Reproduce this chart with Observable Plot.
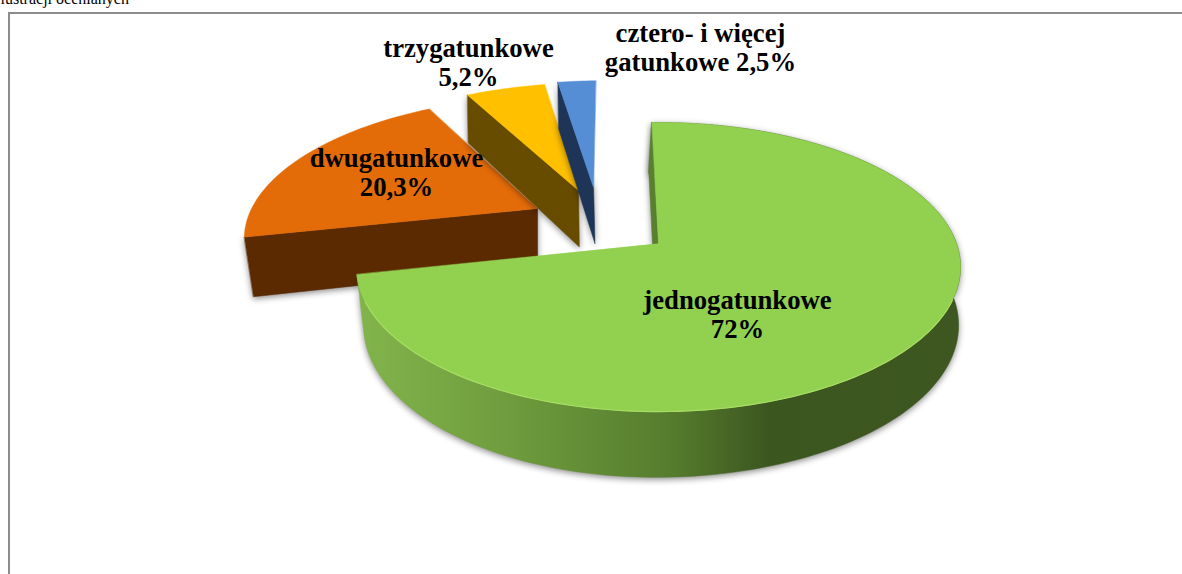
<!DOCTYPE html>
<html><head><meta charset="utf-8">
<script src="https://cdn.jsdelivr.net/npm/d3@7"></script>
<script src="https://cdn.jsdelivr.net/npm/@observablehq/plot@0.6"></script>
<style>html,body{margin:0;padding:0;background:#fff;overflow:hidden}svg{display:block}</style>
</head><body><div id="chart"></div>
<script>
// Data
const names = ["jednogatunkowe","dwugatunkowe","trzygatunkowe","cztero- i więcej gatunkowe"];
const shares = [72,20.3,5.2,2.5];
const labels = ["jednogatunkowe\n72%","dwugatunkowe\n20,3%","trzygatunkowe\n5,2%","cztero- i więcej\ngatunkowe 2,5%"];
const topColors = ["#92d050","#e36c09","#ffc000","#558ed5"];
const wallColors = ["url(#greenWall)","#5b2a00","#674c00","#1f3557"];
// Layout: explosion of each slice on the pie plane, label anchors
const offsetX = [0,-0.423,-0.286,-0.233];
const offsetZ = [0,0.259,0.401,0.4255];
const lowerShift = [0,0,2,3];
const labelX = [737,396,468,700];
const labelY = [314,172,62,47];

// Perspective projection of the pie plane to chart units
const k = 0.163, kLow = 0.143;
const upper = ([X,Z]) => [658 + 298*X/(1+k*Z), 243 - 140.7*Z/(1+k*Z)];
const lower = ([X,Z]) => [655 + (X<0?289:300)*X/(1+kLow*Z), 303 - 149*Z/(1+kLow*Z)];
const startDeg = -1.5;
const rad = d => d*Math.PI/180;

let acc = 0;
const slices = shares.map((v,i) => {
  const a0 = startDeg + acc*3.6; acc += v; const a1 = startDeg + acc*3.6;
  const n = Math.max(8, Math.ceil((a1-a0)/1.5));
  const arc = d3.range(n+1).map(j => { const a = rad(a0+(a1-a0)*j/n);
    return [offsetX[i]+Math.sin(a), offsetZ[i]+Math.cos(a)]; });
  return {i, arc, apex:[offsetX[i],offsetZ[i]]};
});

const drawOrder = [1,2,3,0];
function wallPolys(s){
  const out=[];
  const first=s.arc[0];
  const low = p => { const q = lower(p); return [q[0]+lowerShift[s.i],q[1]]; };
  if(s.i===0) out.push([...s.arc.map(upper),...s.arc.slice().reverse().map(low)]);
  out.push([upper(first),upper(s.apex),low(s.apex),low(first)]);
  return out;
}
const marks = [
  () => { const d=d3.create("svg:defs");
    d.html(`<linearGradient id="greenWall" gradientUnits="userSpaceOnUse" x1="358" x2="961" y1="0" y2="0">
      <stop offset="0" stop-color="#82b44b"/><stop offset="0.25" stop-color="#6f9c3e"/>
      <stop offset="0.52" stop-color="#557c2d"/><stop offset="0.68" stop-color="#3c5620"/><stop offset="1" stop-color="#3e5721"/></linearGradient>`);
    return d.node(); },
  Plot.ruleX([8.5],{y1:12,y2:574,stroke:"#8c8c8c",strokeWidth:2}),
  Plot.ruleY([12.5],{x1:8,x2:1182,stroke:"#8c8c8c",strokeWidth:2}),
  Plot.text(["lustracji ocenianych"],{x:0,y:3,lineAnchor:"bottom",text:d=>d,textAnchor:"start",fontFamily:"Liberation Serif",fontSize:16,fill:"#000"})
];
const shadow = (I,s,v,d,c,next) => { const g=next(I,s,v,d,c); g.style.filter="drop-shadow(0px 2px 3px rgba(0,0,0,0.45))"; return g; };
drawOrder.forEach(i => {
  const s = slices[i];
  wallPolys(s).forEach(w => marks.push(Plot.line(w.map(p => ({x:p[0],y:p[1]})),{x:"x",y:"y",fill:wallColors[i],stroke:wallColors[i],strokeWidth:0.5,curve:"linear-closed",render:shadow})));
  const top = [upper(s.apex),...s.arc.map(upper)].map(p=>({x:p[0],y:p[1]}));
  marks.push(Plot.line(top,{x:"x",y:"y",fill:topColors[i],stroke:topColors[i],strokeWidth:0.5,curve:"linear-closed"}));
  if(i===0) marks.push(Plot.line(s.arc.map(upper).map(p=>({x:p[0],y:p[1]})).filter(p=>p.y>300),{x:"x",y:"y",stroke:"#a6dd62",strokeWidth:1.2,curve:"linear"}));
});
marks.push(Plot.text(labels,{x:(d,i)=>labelX[i],y:(d,i)=>labelY[i],text:d=>d,fontFamily:"Liberation Serif",fontWeight:"bold",fontSize:26.7,lineHeight:1.08,fill:"#000",textAnchor:"middle"}));

const chart = Plot.plot({width:1182,height:574,margin:0,
  x:{domain:[0,1182],range:[0,1182],axis:null},
  y:{domain:[0,574],range:[0,574],axis:null},
  style:{background:"#fff",overflow:"hidden"},
  marks});
document.getElementById("chart").append(chart);
</script></body></html>
